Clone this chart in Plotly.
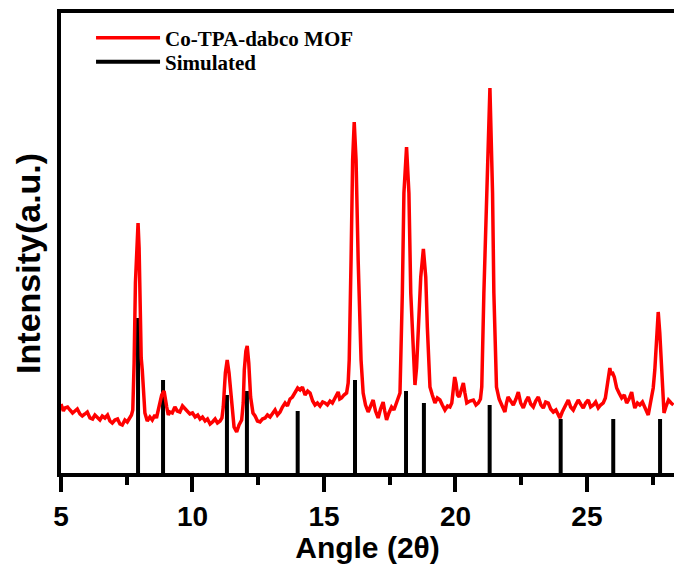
import plotly.graph_objects as go

# Experimental pattern (2theta, intensity a.u.)
exp_x = [5.00, 5.09, 5.15, 5.25, 5.34, 5.44, 5.53, 5.62, 5.72, 5.81, 5.91, 6.00, 6.10, 6.20, 6.29,
         6.38, 6.48, 6.57, 6.67, 6.77, 6.86, 6.95, 7.05, 7.15, 7.24, 7.33, 7.43, 7.52, 7.62, 7.68,
         7.73, 7.78, 7.83, 7.88, 7.93, 7.97, 8.01, 8.05, 8.09, 8.13, 8.19, 8.28, 8.38, 8.47, 8.57,
         8.63, 8.70, 8.77, 8.83, 8.92, 8.97, 9.02, 9.08, 9.14, 9.23, 9.33, 9.42, 9.52, 9.62, 9.71,
         9.80, 9.90, 10.00, 10.10, 10.20, 10.29, 10.38, 10.48, 10.57, 10.67, 10.76, 10.86, 10.95, 11.05, 11.12,
         11.17, 11.25, 11.32, 11.39, 11.45, 11.52, 11.58, 11.68, 11.77, 11.87, 11.93, 11.97, 12.03, 12.08, 12.14,
         12.21, 12.30, 12.38, 12.47, 12.57, 12.66, 12.76, 12.85, 12.95, 13.05, 13.14, 13.23, 13.33, 13.42, 13.52,
         13.61, 13.71, 13.80, 13.90, 14.00, 14.09, 14.18, 14.28, 14.38, 14.47, 14.57, 14.66, 14.75, 14.85, 14.95,
         15.04, 15.13, 15.23, 15.32, 15.42, 15.48, 15.54, 15.60, 15.67, 15.76, 15.86, 15.92, 15.96, 16.03, 16.09,
         16.15, 16.22, 16.30, 16.41, 16.49, 16.58, 16.68, 16.77, 16.87, 16.96, 17.06, 17.15, 17.25, 17.31, 17.38,
         17.47, 17.57, 17.66, 17.76, 17.83, 17.89, 17.98, 18.04, 18.14, 18.23, 18.30, 18.40, 18.46, 18.52, 18.59,
         18.68, 18.78, 18.87, 18.93, 18.98, 19.03, 19.12, 19.22, 19.31, 19.41, 19.50, 19.60, 19.70, 19.79, 19.86,
         19.90, 19.97, 20.02, 20.08, 20.14, 20.22, 20.30, 20.36, 20.43, 20.55, 20.68, 20.78, 20.87, 20.95, 21.00,
         21.08, 21.19, 21.31, 21.41, 21.46, 21.56, 21.66, 21.76, 21.82, 21.88, 21.94, 22.00, 22.10, 22.20, 22.30,
         22.39, 22.48, 22.58, 22.68, 22.77, 22.86, 22.96, 23.05, 23.15, 23.25, 23.34, 23.43, 23.53, 23.62, 23.72,
         23.82, 23.91, 23.97, 24.06, 24.16, 24.22, 24.29, 24.38, 24.48, 24.57, 24.67, 24.76, 24.86, 24.95, 25.05,
         25.14, 25.24, 25.33, 25.43, 25.52, 25.62, 25.70, 25.75, 25.82, 25.87, 25.92, 25.96, 26.04, 26.13, 26.22,
         26.32, 26.42, 26.51, 26.60, 26.70, 26.76, 26.82, 26.92, 27.01, 27.11, 27.21, 27.27, 27.33, 27.40, 27.46,
         27.52, 27.58, 27.65, 27.71, 27.77, 27.84, 27.88, 27.93, 28.00, 28.10, 28.20, 28.29]
exp_y = [69, 62, 65, 66, 63, 60, 62, 64, 59, 57, 59, 61, 55, 54, 58,
         56, 53, 57, 55, 58, 52, 50, 53, 54, 49, 48, 53, 51, 56, 58,
         63, 110, 190, 235, 250, 225, 165, 115, 103, 90, 60, 52, 56, 53, 58,
         55, 63, 70, 78, 82, 76, 66, 58, 61, 60, 66, 62, 61, 67, 64,
         62, 59, 60, 56, 58, 54, 56, 52, 54, 49, 51, 54, 50, 52, 55,
         66, 100, 113, 100, 80, 60, 46, 41, 48, 53, 70, 103, 122, 127, 110,
         76, 60, 57, 52, 51, 54, 55, 58, 56, 60, 63, 58, 61, 66, 70,
         67, 74, 76, 80, 85, 83, 86, 78, 82, 80, 72, 68, 70, 67, 71,
         70, 68, 72, 70, 75, 78, 81, 74, 75, 78, 80, 90, 113, 213, 313,
         351, 313, 213, 113, 80, 68, 61, 67, 73, 62, 55, 64, 71, 62, 53,
         60, 66, 63, 70, 74, 80, 180, 280, 326, 280, 180, 113, 88, 105, 146,
         196, 224, 196, 146, 105, 86, 78, 70, 75, 73, 68, 63, 67, 66, 70,
         80, 96, 90, 78, 76, 82, 90, 80, 70, 72, 73, 68, 70, 74, 86,
         180, 280, 385, 280, 180, 86, 74, 68, 64, 61, 70, 76, 72, 68, 74,
         81, 70, 65, 72, 76, 69, 66, 72, 76, 68, 65, 71, 70, 64, 61,
         63, 58, 55, 61, 66, 70, 73, 66, 63, 68, 73, 69, 65, 70, 73,
         66, 68, 71, 65, 68, 70, 75, 83, 95, 105, 98, 101, 96, 85, 80,
         75, 78, 70, 74, 81, 72, 65, 70, 68, 71, 65, 62, 58, 68, 76,
         85, 103, 140, 161, 140, 100, 80, 60, 66, 73, 70, 68]

# Simulated reflections
sim_pos = [7.93, 8.88, 11.31, 12.07, 14.0, 16.18, 18.12, 18.8, 21.3, 24.0, 26.0, 27.78]
sim_int = [155, 93, 78, 82, 62, 93, 82, 70, 68, 54, 54, 54]

stick_x, stick_y = [], []
for p, h in zip(sim_pos, sim_int):
    stick_x += [p, p, None]
    stick_y += [0, h, None]

fig = go.Figure()
fig.add_trace(go.Scatter(x=stick_x, y=stick_y, mode="lines", name="Simulated",
                         line=dict(color="black", width=4), legend="legend2"))
fig.add_trace(go.Scatter(x=exp_x, y=exp_y, mode="lines", name="Co-TPA-dabco MOF",
                         line=dict(color="#ff0000", width=3.5), legend="legend"))

legfont = dict(family="Liberation Serif, Times New Roman, serif", size=21, color="black", weight="bold")
fig.update_layout(
    width=674, height=564,
    margin=dict(l=61, r=0, t=13, b=91),
    plot_bgcolor="white", paper_bgcolor="white",
    showlegend=True,
    legend=dict(x=0.049, y=0.9457, xanchor="left", yanchor="middle", font=legfont,
                bgcolor="rgba(0,0,0,0)", itemwidth=64),
    legend2=dict(x=0.049, y=0.8935, xanchor="left", yanchor="middle", font=legfont,
                 bgcolor="rgba(0,0,0,0)", itemwidth=64),
    xaxis=dict(range=[5, 28.31], dtick=5, tick0=5, showgrid=False, zeroline=False,
               showline=True, linecolor="black", linewidth=4, mirror=True,
               ticks="outside", ticklen=15, tickwidth=4, tickcolor="black",
               minor=dict(dtick=2.5, tick0=5, ticks="outside", ticklen=8, tickwidth=4, tickcolor="black"),
               tickfont=dict(family="Liberation Sans, Arial, sans-serif", size=28, color="black", weight="bold"),
               title=dict(text="Angle (2θ)", standoff=9,
                          font=dict(family="Liberation Sans, Arial, sans-serif", size=30, color="black", weight="bold"))),
    yaxis=dict(range=[0, 460], showgrid=False, zeroline=False, showticklabels=False,
               showline=True, linecolor="black", linewidth=4, ticks=""),
    annotations=[dict(text="Intensity(a.u.)", xref="paper", yref="paper", x=-0.054, y=0.4565,
                      xanchor="center", yanchor="middle", textangle=-90, showarrow=False,
                      font=dict(family="Liberation Sans, Arial, sans-serif", size=34, color="black", weight="bold"))],
)

fig.write_html("out.html")
